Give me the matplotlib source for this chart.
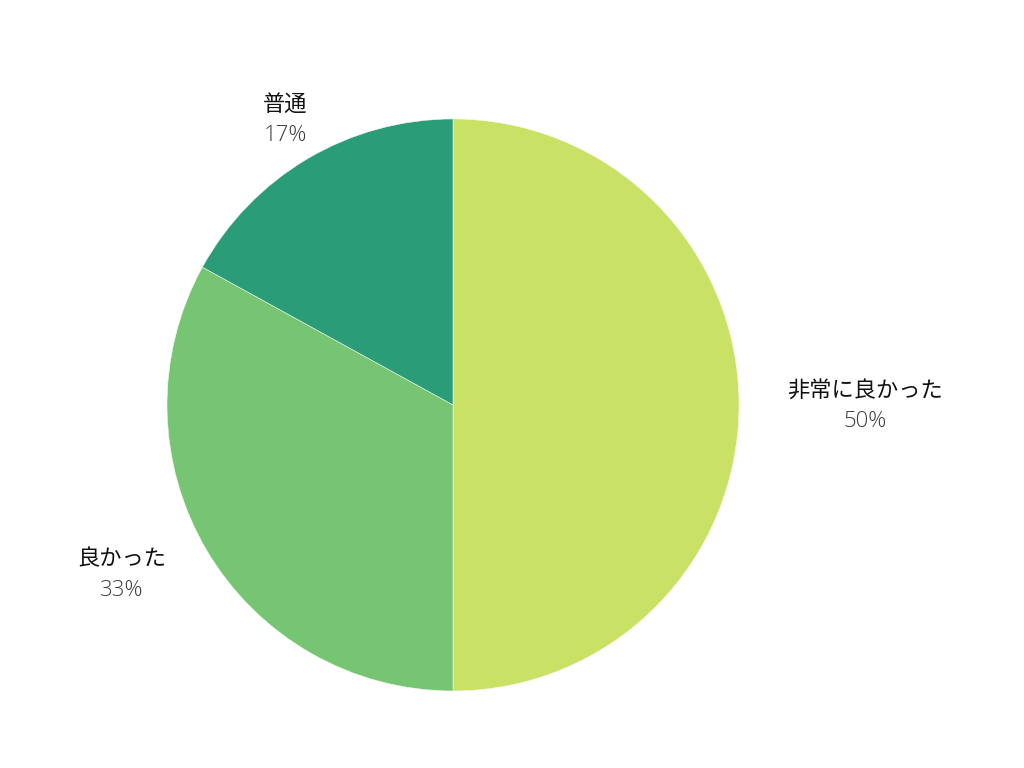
import matplotlib
matplotlib.use('Agg')
import matplotlib.pyplot as plt

labels = ['非常に良かった', '良かった', '普通']
values = [50, 33, 17]
pct_text = ['50%', '33%', '17%']
colors = ['#c9e265', '#75c572', '#2a9d78']

# label positions (data coords, pie radius = 1)
label_pos = [(1.441, 0.052), (-1.157, -0.538), (-0.587, 1.052)]

fig = plt.figure(figsize=(10.24, 7.68), dpi=100)
ax = fig.add_axes([0.1631, 0.1003, 0.5586, 0.7448])

ax.pie(values, colors=colors, startangle=90, counterclock=False, radius=1,
       wedgeprops=dict(edgecolor='#f4f8ec', linewidth=0.4))
ax.set_xlim(-1, 1)
ax.set_ylim(-1, 1)
ax.set_aspect('equal')
ax.axis('off')

for name, pct, (x, y) in zip(labels, pct_text, label_pos):
    ax.text(x, y, name, ha='center', va='center', fontsize=16, color='#111111',
            family=['Noto Sans CJK JP', 'DejaVu Sans'], clip_on=False)
    ax.text(x, y - 0.111, pct, ha='center', va='center', fontsize=16, color='#3c3c3c',
            family=['Open Sans', 'DejaVu Sans'], weight='light', clip_on=False)

fig.savefig('out.png', dpi=100, facecolor='white')
